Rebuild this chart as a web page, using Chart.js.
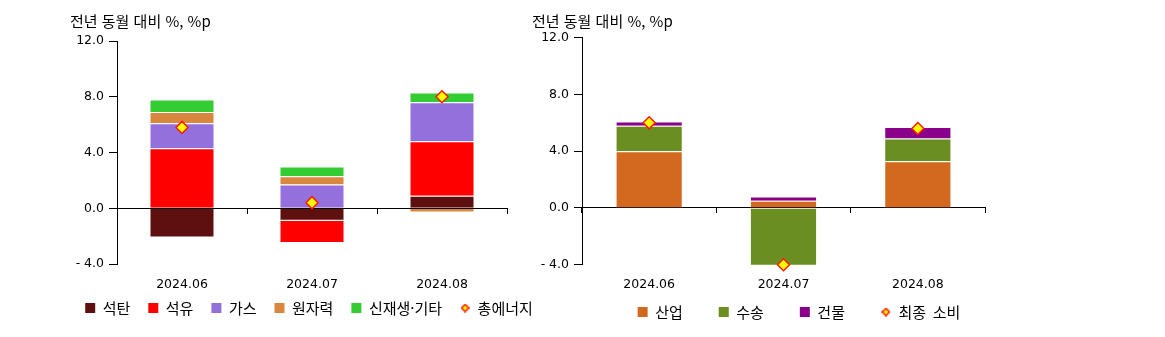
<!DOCTYPE html>
<html lang="ko">
<head>
<meta charset="utf-8">
<title>전년 동월 대비 에너지 수요</title>
<script src="https://cdn.jsdelivr.net/npm/chart.js"></script>
<style>
  body { margin: 0; background: #fff; }
  #painel { position: relative; width: 1165px; height: 337px; overflow: hidden; }
  .caixa { position: absolute; top: 0; height: 337px; }
  .titulo {
    position: absolute; top: 10px; line-height: 18px; white-space: pre;
    font: 15px "Noto Sans CJK KR", "Noto Sans", sans-serif; color: #000;
  }
</style>
</head>
<body>
<div id="painel">
  <div class="caixa" style="left:0;width:620px"><canvas id="graficoEnergia" width="620" height="337"></canvas></div>
  <div class="caixa" style="left:500px;width:600px"><canvas id="graficoConsumo" width="600" height="337"></canvas></div>
  <div class="titulo" style="left:70px">전년 동월 대비 %, %p</div>
  <div class="titulo" style="left:532px">전년 동월 대비 %, %p</div>
</div>
<script>
const meses = ['2024.06', '2024.07', '2024.08'];
const ticksY = [-4, 0, 4, 8, 12];

// energia primaria, %p por fonte
const rotulosEnergia = ['석탄', '석유', '가스', '원자력', '신재생·기타', '총에너지'];
const carvao = [-2.1, -0.9, 0.9];
const petroleo = [4.3, -1.6, 3.9];
const gas = [1.8, 1.7, 2.8];
const nuclear = [0.8, 0.6, -0.3];
const renovaveis = [0.9, 0.7, 0.7];
const totalEnergia = [5.8, 0.4, 8.0];

// consumo final, %p por setor
const rotulosConsumo = ['산업', '수송', '건물', '최종  소비'];
const industria = [4.0, 0.5, 3.3];
const transporte = [1.8, -4.8, 1.6];
const edificios = [0.3, 0.3, 0.8];
const consumoFinal = [6.0, -4.0, 5.6];

const fonteKr = '"Noto Sans CJK KR", "Noto Sans", sans-serif';
const fonteNum = '"DejaVu Sans", Verdana, sans-serif';

// losango pequeno usado so na legenda
const losango = document.createElement('canvas');
losango.width = 9;
losango.height = 9;
const lctx = losango.getContext('2d');
lctx.beginPath();
lctx.moveTo(4.5, 0.9);
lctx.lineTo(8.1, 4.5);
lctx.lineTo(4.5, 8.1);
lctx.lineTo(0.9, 4.5);
lctx.closePath();
lctx.fillStyle = '#FFFF00';
lctx.fill();
lctx.lineWidth = 1.5;
lctx.strokeStyle = '#FF1A00';
lctx.stroke();

function barra(label, data, cor) {
  return {
    type: 'bar', label, data,
    backgroundColor: cor,
    borderColor: 'rgba(255,255,255,0.4)',
    borderWidth: 1,
    barPercentage: 0.5,
    categoryPercentage: 1,
    pointStyle: 'rect',
    order: 1
  };
}

function marcador(label, data) {
  return {
    type: 'line', label, data,
    showLine: false,
    stack: 'total',
    order: 0,
    clip: false,
    pointStyle: 'rectRot',
    pointRadius: 6,
    pointHoverRadius: 6,
    pointBackgroundColor: '#FFFF00',
    pointBorderColor: '#FF1A00',
    pointBorderWidth: 1.5,
    backgroundColor: '#FFFF00',
    borderColor: '#FF1A00'
  };
}

function opcoes(cfg) {
  return {
    responsive: false,
    animation: false,
    events: [],
    layout: { padding: cfg.padding },
    plugins: {
      tooltip: { enabled: false },
      legend: {
        position: 'bottom',
        labels: {
          usePointStyle: true,
          boxWidth: 10,
          boxHeight: 10,
          padding: cfg.legendaPadding,
          color: '#000',
          font: { family: fonteKr, size: 15 },
          sort: (a, b) => a.datasetIndex - b.datasetIndex,
          generateLabels(chart) {
            const itens = Chart.defaults.plugins.legend.labels.generateLabels(chart);
            itens.forEach(item => {
              const ds = chart.data.datasets[item.datasetIndex];
              item.pointStyle = ds.type === 'line' ? losango : 'rect';
              item.lineWidth = 0;
            });
            return itens;
          }
        }
      }
    },
    scales: {
      // eixo dos dados: so reserva o espaco entre o grafico e a legenda
      x: {
        stacked: true,
        offset: true,
        grid: { display: false, drawTicks: false },
        border: { display: false },
        ticks: { display: false },
        afterFit: s => { s.height = cfg.xAltura; }
      },
      // rotulos dos meses, presos ao fundo da escala
      xMes: {
        axis: 'x',
        type: 'category',
        position: { y: ticksY[0] },
        offset: true,
        grid: { display: false, drawTicks: false },
        border: { display: false },
        ticks: { color: '#000', padding: cfg.xPadding, font: { family: fonteNum, size: 12.5 } }
      },
      // linha do zero com as marcas entre os meses
      x0: {
        axis: 'x',
        type: 'category',
        position: { y: 0 },
        offset: true,
        grid: { offset: true, drawOnChartArea: false, drawTicks: true, tickLength: 5, color: '#000' },
        border: { color: '#000', width: 1 },
        ticks: { display: false }
      },
      y: {
        stacked: true,
        min: ticksY[0],
        max: ticksY[ticksY.length - 1],
        ticks: {
          stepSize: ticksY[1] - ticksY[0],
          color: '#000',
          padding: 5,
          font: { family: fonteNum, size: 12.5 },
          callback: v => v < 0 ? '- ' + Math.abs(v).toFixed(1) : v.toFixed(1)
        },
        grid: { drawOnChartArea: false, tickLength: 8, color: '#000' },
        border: { color: '#000', width: 1 },
        afterFit: s => { s.width = cfg.yLargura; }
      },
      // eixo vazio a direita so para reservar espaco
      yR: {
        position: 'right',
        grid: { display: false },
        border: { display: false },
        ticks: { display: false },
        afterFit: s => { s.width = cfg.direitaLargura; }
      }
    }
  };
}

// GRAFICO ENERGIA PRIMARIA
const graficoEnergia = document.getElementById('graficoEnergia');
new Chart(graficoEnergia, {
  data: {
    labels: meses,
    datasets: [
      barra(rotulosEnergia[0], carvao, '#5E1010'),
      barra(rotulosEnergia[1], petroleo, '#FF0000'),
      barra(rotulosEnergia[2], gas, '#9370DB'),
      barra(rotulosEnergia[3], nuclear, '#D9873F'),
      barra(rotulosEnergia[4], renovaveis, '#33CC33'),
      marcador(rotulosEnergia[5], totalEnergia)
    ]
  },
  options: opcoes({
    padding: { left: 20, right: 22, top: 41, bottom: 11.5 },
    legendaPadding: 18,
    xPadding: 13.5,
    xAltura: 18.5,
    yLargura: 97,
    direitaLargura: 91
  })
});

// GRAFICO CONSUMO FINAL
const graficoConsumo = document.getElementById('graficoConsumo');
new Chart(graficoConsumo, {
  data: {
    labels: meses,
    datasets: [
      barra(rotulosConsumo[0], industria, '#D2691E'),
      barra(rotulosConsumo[1], transporte, '#6B8E23'),
      barra(rotulosConsumo[2], edificios, '#8B008B'),
      marcador(rotulosConsumo[3], consumoFinal)
    ]
  },
  options: opcoes({
    padding: { left: 40, right: 42, top: 37.7, bottom: 7.5 },
    legendaPadding: 36,
    xPadding: 12.8,
    xAltura: 3.8,
    yLargura: 42,
    direitaLargura: 73
  })
});
</script>
</body>
</html>
